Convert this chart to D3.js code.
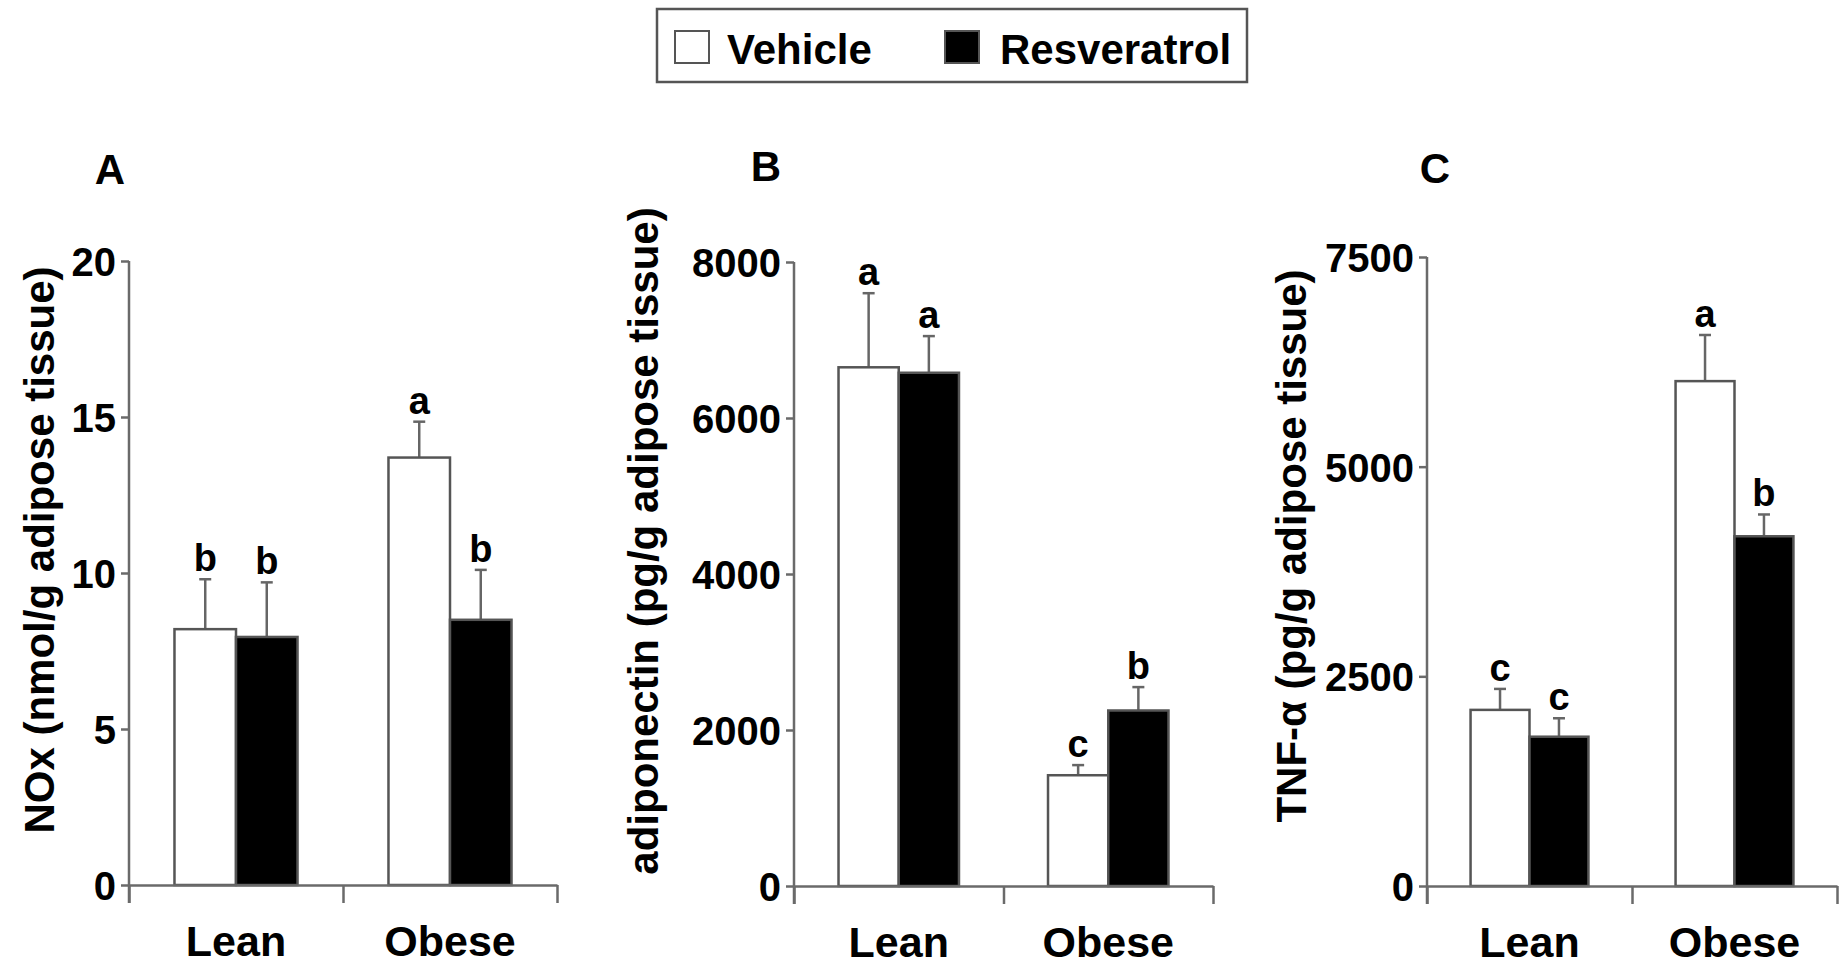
<!DOCTYPE html>
<html>
<head>
<meta charset="utf-8">
<script src="https://cdn.jsdelivr.net/npm/d3@7"></script>
<style>
  body { margin: 0; background: #fff; }
  text { font-family: "Liberation Sans", Arial, sans-serif; font-weight: bold; fill: #000; }
</style>
</head>
<body>
<script>
// data
var groups = ["Lean", "Obese"],
  series = ["Vehicle", "Resveratrol"];

var noxVehicle = [8.2, 13.7],
  noxVehicleSem = [1.6, 1.15],
  noxResveratrol = [7.95, 8.5],
  noxResveratrolSem = [1.75, 1.6],
  noxVehicleLetters = ["b", "a"],
  noxResveratrolLetters = ["b", "b"],
  noxTicks = [0, 5, 10, 15, 20];

var adipoVehicle = [6650, 1420],
  adipoVehicleSem = [950, 130],
  adipoResveratrol = [6580, 2250],
  adipoResveratrolSem = [470, 300],
  adipoVehicleLetters = ["a", "c"],
  adipoResveratrolLetters = ["a", "b"],
  adipoTicks = [0, 2000, 4000, 6000, 8000];

var tnfVehicle = [2100, 6020],
  tnfVehicleSem = [250, 550],
  tnfResveratrol = [1780, 4170],
  tnfResveratrolSem = [220, 260],
  tnfVehicleLetters = ["c", "a"],
  tnfResveratrolLetters = ["c", "b"],
  tnfTicks = [0, 2500, 5000, 7500];

var width = 1843, height = 967;
var svg = d3.select("body").append("svg")
  .attr("width", width)
  .attr("height", height);

// legend
var leg = svg.append("g");
leg.append("rect").attr("x", 657).attr("y", 9).attr("width", 590).attr("height", 73)
  .attr("fill", "#fff").attr("stroke", "#555").attr("stroke-width", 2.5);
leg.selectAll("rect.sw").data(series).enter().append("rect").attr("class", "sw")
  .attr("x", function(d, i){ return i ? 945 : 675 })
  .attr("y", 31).attr("width", 34).attr("height", 32)
  .attr("fill", function(d, i){ return i ? "#000" : "#fff" })
  .attr("stroke", "#555").attr("stroke-width", 2);
leg.selectAll("text").data(series).enter().append("text")
  .attr("x", function(d, i){ return i ? 1000 : 727 })
  .attr("y", 64).attr("font-size", 42)
  .text(function(d){ return d });

var panels = [
  { letter: "A", lx: 110, ly: 184, left: 129, right: 557, top: 261, zero: 885,
    label: "NOx (nmol/g adipose tissue)", labX: 54, labY: 550,
    ticks: noxTicks, vals: [noxVehicle, noxResveratrol], sems: [noxVehicleSem, noxResveratrolSem],
    letters: [noxVehicleLetters, noxResveratrolLetters], catY: 956 },
  { letter: "B", lx: 766, ly: 181, left: 794, right: 1213, top: 262, zero: 886,
    label: "adiponectin (pg/g adipose tissue)", labX: 658, labY: 541,
    ticks: adipoTicks, vals: [adipoVehicle, adipoResveratrol], sems: [adipoVehicleSem, adipoResveratrolSem],
    letters: [adipoVehicleLetters, adipoResveratrolLetters], catY: 957 },
  { letter: "C", lx: 1435, ly: 183, left: 1427, right: 1837, top: 257, zero: 886,
    label: "TNF-\u03b1 (pg/g adipose tissue)", labX: 1306, labY: 546,
    ticks: tnfTicks, vals: [tnfVehicle, tnfResveratrol], sems: [tnfVehicleSem, tnfResveratrolSem],
    letters: [tnfVehicleLetters, tnfResveratrolLetters], catY: 957 }
];

var axisColor = "#6a6a6a";

panels.forEach(function(p) {
  var g = svg.append("g");
  var y0 = p.zero;
  var y = d3.scaleLinear().domain([0, d3.max(p.ticks)]).range([y0, p.top]);
  var x = d3.scaleBand().domain(groups).range([p.left, p.right]).paddingInner(0).paddingOuter(0);
  var bw = x.bandwidth() * 0.575;
  var xs = d3.scaleBand().domain(series).range([0, bw]);
  var xEdge = d3.scaleLinear().domain([0, groups.length]).range([p.left, p.right]);

  // one row per bar
  var rows = [];
  groups.forEach(function(gr, gi) {
    series.forEach(function(s, si) {
      rows.push({ group: gr, series: s, si: si, v: p.vals[si][gi], e: p.sems[si][gi], l: p.letters[si][gi] });
    });
  });
  function bx(d) { return x(d.group) + (x.bandwidth() - bw) / 2 + xs(d.series); }
  function cx(d) { return bx(d) + xs.bandwidth() / 2; }

  // error bars, upper half only
  var eb = g.selectAll("g.err").data(rows).enter().append("g").attr("class", "err")
    .attr("stroke", "#666").attr("stroke-width", 2.5);
  eb.append("line")
    .attr("x1", cx).attr("x2", cx)
    .attr("y1", function(d){ return y(d.v) })
    .attr("y2", function(d){ return y(d.v + d.e) });
  eb.append("line")
    .attr("x1", function(d){ return cx(d) - 6 })
    .attr("x2", function(d){ return cx(d) + 6 })
    .attr("y1", function(d){ return y(d.v + d.e) })
    .attr("y2", function(d){ return y(d.v + d.e) });

  g.selectAll("rect.bar").data(rows).enter().append("rect").attr("class", "bar")
    .attr("x", bx)
    .attr("y", function(d){ return y(d.v) })
    .attr("width", xs.bandwidth())
    .attr("height", function(d){ return y0 - y(d.v) })
    .attr("fill", function(d){ return d.si ? "#000" : "#fff" })
    .attr("stroke", "#555").attr("stroke-width", 2.5);

  g.selectAll("text.sig").data(rows).enter().append("text").attr("class", "sig")
    .attr("x", cx)
    .attr("y", function(d){ return y(d.v + d.e) - 8 })
    .attr("text-anchor", "middle").attr("font-size", 38)
    .text(function(d){ return d.l });

  // y axis
  var ya = g.append("g").attr("transform", "translate(" + p.left + ",0)")
    .call(d3.axisLeft(y).tickValues(p.ticks).tickSize(8).tickSizeOuter(0).tickPadding(5)
      .tickFormat(d3.format("d")));
  ya.select(".domain").remove();
  ya.selectAll("line").attr("stroke", axisColor).attr("stroke-width", 2.5);
  ya.selectAll("text").attr("font-size", 40).attr("font-family", "Liberation Sans, Arial, sans-serif")
    .attr("font-weight", "bold").attr("fill", "#000").attr("dy", "0.36em");
  g.append("line").attr("x1", p.left).attr("x2", p.left).attr("y1", p.top).attr("y2", y0 + 18)
    .attr("stroke", axisColor).attr("stroke-width", 2.5);

  // x axis, ticks sit between the groups
  var xa = g.append("g").attr("transform", "translate(0," + y0 + ")")
    .call(d3.axisBottom(xEdge).tickValues([0, 1, 2]).tickSize(18).tickSizeOuter(0).tickFormat(""));
  xa.selectAll("line, path").attr("stroke", axisColor).attr("stroke-width", 2.5);

  g.selectAll("text.cat").data(groups).enter().append("text").attr("class", "cat")
    .attr("x", function(d){ return x(d) + x.bandwidth() / 2 })
    .attr("y", p.catY).attr("text-anchor", "middle").attr("font-size", 43)
    .text(function(d){ return d });

  g.append("text").attr("x", p.lx).attr("y", p.ly).attr("text-anchor", "middle")
    .attr("font-size", 42).text(p.letter);

  g.append("text").attr("transform", "translate(" + p.labX + "," + p.labY + ") rotate(-90)")
    .attr("text-anchor", "middle").attr("font-size", 42).text(p.label);
});
</script>
</body>
</html>
